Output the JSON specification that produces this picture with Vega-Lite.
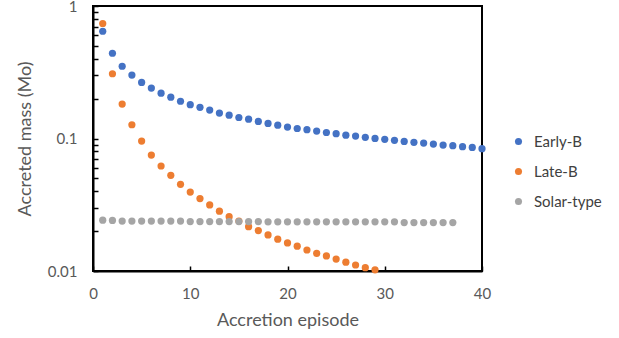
{
  "$schema": "https://vega.github.io/schema/vega-lite/v6.json",
  "width": 389,
  "height": 265,
  "autosize": {"type": "none"},
  "padding": {"left": 93, "top": 6, "right": 137, "bottom": 67},
  "background": "white",
  "config": {
    "font": "Lato",
    "view": {"stroke": "black", "strokeWidth": 2},
    "axis": {"labelFont": "Lato", "titleFont": "Lato", "labelColor": "#595959", "titleColor": "#595959", "titleFontWeight": "normal", "grid": false, "domainColor": "black", "tickColor": "black", "domainWidth": 2, "tickWidth": 1.5, "labelFlush": false}
  },
  "datasets": {
    "accretion": [
      {"series": "Early-B", "episode": 1, "mass": 0.645},
      {"series": "Early-B", "episode": 2, "mass": 0.44},
      {"series": "Early-B", "episode": 3, "mass": 0.351},
      {"series": "Early-B", "episode": 4, "mass": 0.301},
      {"series": "Early-B", "episode": 5, "mass": 0.265},
      {"series": "Early-B", "episode": 6, "mass": 0.240},
      {"series": "Early-B", "episode": 7, "mass": 0.220},
      {"series": "Early-B", "episode": 8, "mass": 0.205},
      {"series": "Early-B", "episode": 9, "mass": 0.191},
      {"series": "Early-B", "episode": 10, "mass": 0.180},
      {"series": "Early-B", "episode": 11, "mass": 0.172},
      {"series": "Early-B", "episode": 12, "mass": 0.164},
      {"series": "Early-B", "episode": 13, "mass": 0.1555},
      {"series": "Early-B", "episode": 14, "mass": 0.150},
      {"series": "Early-B", "episode": 15, "mass": 0.144},
      {"series": "Early-B", "episode": 16, "mass": 0.140},
      {"series": "Early-B", "episode": 17, "mass": 0.1345},
      {"series": "Early-B", "episode": 18, "mass": 0.130},
      {"series": "Early-B", "episode": 19, "mass": 0.126},
      {"series": "Early-B", "episode": 20, "mass": 0.122},
      {"series": "Early-B", "episode": 21, "mass": 0.119},
      {"series": "Early-B", "episode": 22, "mass": 0.1165},
      {"series": "Early-B", "episode": 23, "mass": 0.1137},
      {"series": "Early-B", "episode": 24, "mass": 0.111},
      {"series": "Early-B", "episode": 25, "mass": 0.1087},
      {"series": "Early-B", "episode": 26, "mass": 0.106},
      {"series": "Early-B", "episode": 27, "mass": 0.1043},
      {"series": "Early-B", "episode": 28, "mass": 0.102},
      {"series": "Early-B", "episode": 29, "mass": 0.1002},
      {"series": "Early-B", "episode": 30, "mass": 0.0985},
      {"series": "Early-B", "episode": 31, "mass": 0.0968},
      {"series": "Early-B", "episode": 32, "mass": 0.0951},
      {"series": "Early-B", "episode": 33, "mass": 0.0935},
      {"series": "Early-B", "episode": 34, "mass": 0.0923},
      {"series": "Early-B", "episode": 35, "mass": 0.0908},
      {"series": "Early-B", "episode": 36, "mass": 0.0892},
      {"series": "Early-B", "episode": 37, "mass": 0.0882},
      {"series": "Early-B", "episode": 38, "mass": 0.0868},
      {"series": "Early-B", "episode": 39, "mass": 0.0857},
      {"series": "Early-B", "episode": 40, "mass": 0.0838},
      {"series": "Late-B", "episode": 1, "mass": 0.738},
      {"series": "Late-B", "episode": 2, "mass": 0.308},
      {"series": "Late-B", "episode": 3, "mass": 0.182},
      {"series": "Late-B", "episode": 4, "mass": 0.127},
      {"series": "Late-B", "episode": 5, "mass": 0.0956},
      {"series": "Late-B", "episode": 6, "mass": 0.075},
      {"series": "Late-B", "episode": 7, "mass": 0.062},
      {"series": "Late-B", "episode": 8, "mass": 0.0527},
      {"series": "Late-B", "episode": 9, "mass": 0.0451},
      {"series": "Late-B", "episode": 10, "mass": 0.0394},
      {"series": "Late-B", "episode": 11, "mass": 0.0352},
      {"series": "Late-B", "episode": 12, "mass": 0.0315},
      {"series": "Late-B", "episode": 13, "mass": 0.0283},
      {"series": "Late-B", "episode": 14, "mass": 0.0257},
      {"series": "Late-B", "episode": 15, "mass": 0.0238},
      {"series": "Late-B", "episode": 16, "mass": 0.0216},
      {"series": "Late-B", "episode": 17, "mass": 0.0202},
      {"series": "Late-B", "episode": 18, "mass": 0.0187},
      {"series": "Late-B", "episode": 19, "mass": 0.0174},
      {"series": "Late-B", "episode": 20, "mass": 0.0163},
      {"series": "Late-B", "episode": 21, "mass": 0.0154},
      {"series": "Late-B", "episode": 22, "mass": 0.0144},
      {"series": "Late-B", "episode": 23, "mass": 0.0136},
      {"series": "Late-B", "episode": 24, "mass": 0.0130},
      {"series": "Late-B", "episode": 25, "mass": 0.0123},
      {"series": "Late-B", "episode": 26, "mass": 0.01165},
      {"series": "Late-B", "episode": 27, "mass": 0.0111},
      {"series": "Late-B", "episode": 28, "mass": 0.0106},
      {"series": "Late-B", "episode": 29, "mass": 0.0102},
      {"series": "Solar-type", "episode": 1, "mass": 0.0242},
      {"series": "Solar-type", "episode": 2, "mass": 0.0241},
      {"series": "Solar-type", "episode": 3, "mass": 0.0238},
      {"series": "Solar-type", "episode": 4, "mass": 0.0238},
      {"series": "Solar-type", "episode": 5, "mass": 0.0238},
      {"series": "Solar-type", "episode": 6, "mass": 0.0238},
      {"series": "Solar-type", "episode": 7, "mass": 0.0238},
      {"series": "Solar-type", "episode": 8, "mass": 0.0238},
      {"series": "Solar-type", "episode": 9, "mass": 0.0238},
      {"series": "Solar-type", "episode": 10, "mass": 0.0236},
      {"series": "Solar-type", "episode": 11, "mass": 0.0236},
      {"series": "Solar-type", "episode": 12, "mass": 0.0236},
      {"series": "Solar-type", "episode": 13, "mass": 0.0236},
      {"series": "Solar-type", "episode": 14, "mass": 0.0236},
      {"series": "Solar-type", "episode": 15, "mass": 0.0236},
      {"series": "Solar-type", "episode": 16, "mass": 0.0236},
      {"series": "Solar-type", "episode": 17, "mass": 0.0236},
      {"series": "Solar-type", "episode": 18, "mass": 0.0235},
      {"series": "Solar-type", "episode": 19, "mass": 0.0235},
      {"series": "Solar-type", "episode": 20, "mass": 0.0235},
      {"series": "Solar-type", "episode": 21, "mass": 0.0235},
      {"series": "Solar-type", "episode": 22, "mass": 0.0235},
      {"series": "Solar-type", "episode": 23, "mass": 0.0235},
      {"series": "Solar-type", "episode": 24, "mass": 0.0235},
      {"series": "Solar-type", "episode": 25, "mass": 0.0235},
      {"series": "Solar-type", "episode": 26, "mass": 0.0235},
      {"series": "Solar-type", "episode": 27, "mass": 0.0235},
      {"series": "Solar-type", "episode": 28, "mass": 0.0235},
      {"series": "Solar-type", "episode": 29, "mass": 0.0235},
      {"series": "Solar-type", "episode": 30, "mass": 0.0235},
      {"series": "Solar-type", "episode": 31, "mass": 0.0235},
      {"series": "Solar-type", "episode": 32, "mass": 0.0232},
      {"series": "Solar-type", "episode": 33, "mass": 0.0232},
      {"series": "Solar-type", "episode": 34, "mass": 0.0232},
      {"series": "Solar-type", "episode": 35, "mass": 0.0232},
      {"series": "Solar-type", "episode": 36, "mass": 0.0232},
      {"series": "Solar-type", "episode": 37, "mass": 0.0232}
    ]
  },
  "data": {"name": "accretion"},
  "mark": {"type": "point", "filled": true, "opacity": 1, "size": 52, "shape": "circle"},
  "encoding": {
    "x": {
      "field": "episode",
      "type": "quantitative",
      "scale": {"domain": [0, 40], "nice": false, "zero": false},
      "axis": {
        "title": "Accretion episode",
        "values": [0, 10, 20, 30, 40],
        "tickSize": -5,
        "labelPadding": 20,
        "labelFontSize": 15,
        "titleFontSize": 18,
        "titlePadding": 10
      }
    },
    "y": {
      "field": "mass",
      "type": "quantitative",
      "scale": {"type": "log", "domain": [0.01, 1], "nice": false},
      "axis": {
        "title": "Accreted mass (Mo)",
        "values": [0.01, 0.02, 0.03, 0.04, 0.05, 0.06, 0.07, 0.08, 0.09, 0.1, 0.2, 0.3, 0.4, 0.5, 0.6, 0.7, 0.8, 0.9, 1],
        "labelExpr": "datum.value == 0.01 ? '0.01' : datum.value == 0.1 ? '0.1' : datum.value == 1 ? '1' : ''",
        "tickSize": -5,
        "labelPadding": 21,
        "labelFontSize": 15,
        "titleFontSize": 18,
        "titlePadding": 13
      }
    },
    "color": {
      "field": "series",
      "type": "nominal",
      "sort": ["Early-B", "Late-B", "Solar-type"],
      "scale": {"domain": ["Early-B", "Late-B", "Solar-type"], "range": ["#4472C4", "#ED7D31", "#A5A5A5"]},
      "legend": {
        "title": null,
        "orient": "none",
        "legendX": 418,
        "legendY": 128,
        "labelFontSize": 15,
        "labelColor": "#404040",
        "labelFont": "Lato",
        "symbolSize": 50,
        "symbolType": "circle",
        "rowPadding": 14,
        "labelOffset": 8
      }
    }
  }
}
